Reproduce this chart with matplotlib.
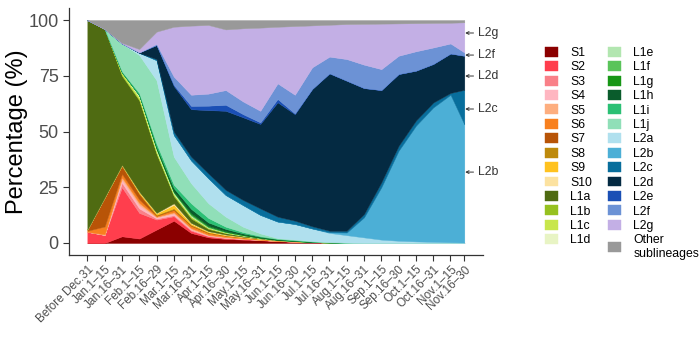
import matplotlib
matplotlib.use("Agg")
import matplotlib.pyplot as plt

plt.rcParams['font.family'] = ['Liberation Sans', 'DejaVu Sans']

# Half-month periods; the last one is shorter (data ends before Nov.30)
periods = ['Before Dec.31', 'Jan.1\u201315', 'Jan.16\u201331', 'Feb.1\u201315', 'Feb.16\u201329',
           'Mar.1\u201315', 'Mar.16\u201331', 'Apr.1\u201315', 'Apr.16\u201330', 'May.1\u201315',
           'May.16\u201331', 'Jun.1\u201315', 'Jun.16\u201330', 'Jul.1\u201315', 'Jul.16\u201331',
           'Aug.1\u201315', 'Aug.16\u201331', 'Sep.1\u201315', 'Sep.16\u201330', 'Oct.1\u201315',
           'Oct.16\u201331', 'Nov.1\u201315', 'Nov.16\u201330']
period_pos = list(range(22)) + [21.8]

# percentage of sequences per sublineage (stack order, bottom to top)
S1 = [0, 0, 3, 2, 6, 10, 4.5, 2.5, 1.8, 1.5, 1.2, 0.8, 0.5, 0.3, 0.2, 0.1, 0, 0, 0, 0, 0, 0, 0]
S2 = [5, 3.6, 22, 11.5, 4.5, 2, 1, 0.5, 0.4, 0.3, 0.2, 0.1, 0.1, 0.1, 0, 0, 0, 0, 0, 0, 0, 0, 0]
S3 = [0, 0, 2, 2, 0.5, 0.5, 0.4, 0.2, 0.1, 0, 0, 0, 0, 0, 0, 0, 0, 0, 0, 0, 0, 0, 0]
S4 = [0, 0, 1.5, 1.5, 0.5, 0.8, 0.3, 0.2, 0.1, 0, 0, 0, 0, 0, 0, 0, 0, 0, 0, 0, 0, 0, 0]
S5 = [0, 0.3, 1, 1, 0.3, 0.5, 0.5, 0.3, 0.3, 0.2, 0, 0, 0, 0, 0, 0, 0, 0, 0, 0, 0, 0, 0]
S6 = [0.5, 3.5, 1.5, 1.5, 0.4, 1, 1, 0.8, 0.6, 0.5, 0.4, 0.3, 0.2, 0, 0, 0, 0, 0, 0, 0, 0, 0, 0]
S7 = [0.5, 13, 3.5, 2.5, 0.2, 0.3, 0.2, 0.1, 0, 0, 0, 0, 0, 0, 0, 0, 0, 0, 0, 0, 0, 0, 0]
S8 = [0, 0, 0.3, 0.3, 0.3, 0.5, 0.3, 0.2, 0.1, 0, 0, 0, 0, 0, 0, 0, 0, 0, 0, 0, 0, 0, 0]
S9 = [0, 0, 0.2, 0.5, 0.6, 1.5, 0.5, 0.3, 0.2, 0.2, 0.1, 0, 0, 0, 0, 0, 0, 0, 0, 0, 0, 0, 0]
S10 = [0, 0, 0, 0.2, 0.2, 0.7, 0.3, 0.2, 0.2, 0.1, 0.1, 0, 0, 0, 0, 0, 0, 0, 0, 0, 0, 0, 0]
L1a = [94, 75.6, 40, 41, 26.5, 3.2, 2, 1, 0.6, 0.4, 0.3, 0.2, 0.1, 0, 0, 0, 0, 0, 0, 0, 0, 0, 0]
L1b = [0, 0, 0.5, 0.5, 0.5, 0.5, 0.5, 0.3, 0.2, 0.1, 0, 0, 0, 0, 0, 0, 0, 0, 0, 0, 0, 0, 0]
L1c = [0, 0, 1, 1, 0.8, 0.5, 0.5, 0.3, 0.2, 0.1, 0, 0, 0, 0, 0, 0, 0, 0, 0, 0, 0, 0, 0]
L1d = [0, 0, 0, 0.3, 0.2, 0.2, 0.1, 0, 0, 0, 0, 0, 0, 0, 0, 0, 0, 0, 0, 0, 0, 0, 0]
L1e = [0, 0, 0, 0.5, 0.5, 0.3, 0.2, 0.1, 0, 0, 0, 0, 0, 0, 0, 0, 0, 0, 0, 0, 0, 0, 0]
L1f = [0, 0, 0, 0, 0.3, 0.3, 0.5, 0.3, 0.2, 0.1, 0, 0, 0, 0, 0, 0, 0, 0, 0, 0, 0, 0, 0]
L1g = [0, 0, 0, 0, 0.3, 0.3, 0.5, 0.4, 0.3, 0.2, 0.1, 0, 0, 0, 0, 0, 0, 0, 0, 0, 0, 0, 0]
L1h = [0, 0, 0, 0, 0.5, 1.5, 2, 1.5, 1, 0.6, 0.4, 0.3, 0.2, 0.2, 0.1, 0, 0, 0, 0, 0, 0, 0, 0]
L1i = [0, 0, 0.5, 1, 1.5, 1.5, 2.5, 2, 1, 0.6, 0.3, 0.2, 0.2, 0.1, 0, 0, 0, 0, 0, 0, 0, 0, 0]
L1j = [0, 0, 12.5, 17, 28.4, 12.6, 9, 6.6, 4.5, 2.4, 1.2, 0.3, 0.3, 0.2, 0.1, 0.1, 0, 0, 0, 0, 0, 0, 0]
L2a = [0, 0, 0, 1, 9, 9.7, 10.2, 11.2, 9.7, 9.7, 8.3, 7.4, 6.9, 5.6, 4.1, 3.3, 2.5, 1.5, 1, 0.7, 0.5, 0.3, 0.2]
L2b = [0, 0, 0, 0, 0, 0, 0, 0, 0, 0, 0, 0, 0, 0, 0.3, 1.2, 9, 23.5, 40.4, 51.9, 60.3, 66.2, 53]
L2c = [0, 0, 0, 0, 0.5, 1.5, 1.7, 2.2, 2.3, 2.3, 2.9, 2.2, 1.5, 1, 0.7, 0.8, 1.5, 2.2, 2.2, 2.3, 2.2, 0.8, 15.5]
L2d = [0, 0, 0, 0.2, 6.3, 20.5, 21.3, 28.4, 35.5, 37.1, 37.9, 51.3, 47.8, 61.6, 70.6, 67.3, 56.5, 41.4, 32.2, 22.4, 17.3, 17.7, 15.3]
L2e = [0, 0, 0, 0, 0, 0.5, 1.5, 2, 2.7, 1.4, 0.7, 1.5, 0.3, 0, 0, 0, 0, 0, 0, 0, 0, 0, 0]
L2f = [0, 0, 0, 0, 0.5, 3.7, 5, 5.4, 6.6, 5.7, 5.2, 7, 8.4, 9.7, 7.5, 9.7, 10.5, 9.4, 8.2, 8.7, 7.4, 4.5, 1.5]
L2g = [0, 0, 0.3, 1.5, 5.5, 22.4, 31, 30.8, 27.2, 32.8, 37.3, 25.4, 30.8, 18.8, 14.3, 15.7, 18.3, 20.4, 14.5, 12.6, 11, 9.3, 13.5]
other = [0, 4, 10.2, 13, 5.2, 3, 2.5, 2.2, 4.2, 3.7, 3.4, 3, 2.7, 2.4, 2.1, 1.8, 1.7, 1.6, 1.5, 1.4, 1.3, 1.2, 1]

series = [S1, S2, S3, S4, S5, S6, S7, S8, S9, S10, L1a, L1b, L1c, L1d, L1e, L1f, L1g, L1h, L1i, L1j,
          L2a, L2b, L2c, L2d, L2e, L2f, L2g, other]
names = ['S1', 'S2', 'S3', 'S4', 'S5', 'S6', 'S7', 'S8', 'S9', 'S10', 'L1a', 'L1b', 'L1c', 'L1d',
         'L1e', 'L1f', 'L1g', 'L1h', 'L1i', 'L1j', 'L2a', 'L2b', 'L2c', 'L2d', 'L2e', 'L2f', 'L2g',
         'Other\nsublineages']
colors = ['#8B0000', '#FF3E4D', '#F98088', '#FFB6C1', '#FDAE7F', '#F8801E', '#B85407', '#BE8A0C',
          '#FFC21F', '#FCE2A0', '#4F6B12', '#96C11F', '#C8E64C', '#E8F4C4', '#B2E6B0', '#5AC45A',
          '#179616', '#0A5C2C', '#2BC074', '#90DFB8', '#B0E0EE', '#4CAFD6', '#086E9C', '#042A42',
          '#1A4FB5', '#6C92D5', '#C3AFE5', '#999999']

# right-hand labels with arrows
side_labels = ['L2g', 'L2f', 'L2d', 'L2c', 'L2b']
side_label_y = [94.2, 84.3, 74.9, 60.1, 31.8]

fig = plt.figure(figsize=(7.0, 3.49), dpi=100)
ax = fig.add_axes([0.0986, 0.2693, 0.5914, 0.7077])

polys = ax.stackplot(period_pos, *series, colors=colors, labels=names, linewidth=0.3)
for p, c in zip(polys, colors):
    p.set_edgecolor(c)

ax.set_xlim(-1.06, 22.88)
ax.set_ylim(-5.4, 105.4)
ax.set_yticks([0, 25, 50, 75, 100])
ax.set_xticks(period_pos)
ax.set_xticklabels(periods, rotation=45, ha='right', rotation_mode='anchor', fontsize=8.5, color='#4D4D4D')
ax.tick_params(axis='y', labelsize=13, labelcolor='#4D4D4D', color='#333333', length=4, width=0.8)
ax.tick_params(axis='x', color='#333333', length=4, width=0.8, pad=2)
ax.set_ylabel('Percentage (%)', fontsize=17, labelpad=0)
for side in ['top', 'right']:
    ax.spines[side].set_visible(False)
for side in ['left', 'bottom']:
    ax.spines[side].set_color('#333333')
    ax.spines[side].set_linewidth(0.9)

for lab, yv in zip(side_labels, side_label_y):
    ax.annotate(lab, xy=(period_pos[-1] + 0.05, yv), xytext=(9, 0), textcoords='offset points',
                ha='left', va='center', fontsize=8.8, color='#333333', annotation_clip=False,
                arrowprops=dict(arrowstyle='->', lw=0.7, color='#333333', shrinkA=1, shrinkB=0,
                                mutation_scale=5))

fig.legend(*ax.get_legend_handles_labels(), loc='upper left', bbox_to_anchor=(0.779, 0.866),
           ncol=2, frameon=False, fontsize=8.8, handlelength=1.05, handleheight=0.88,
           handletextpad=1.0, labelspacing=0.18, columnspacing=1.3, borderpad=0, borderaxespad=0)

fig.savefig('out.png', dpi=100)
